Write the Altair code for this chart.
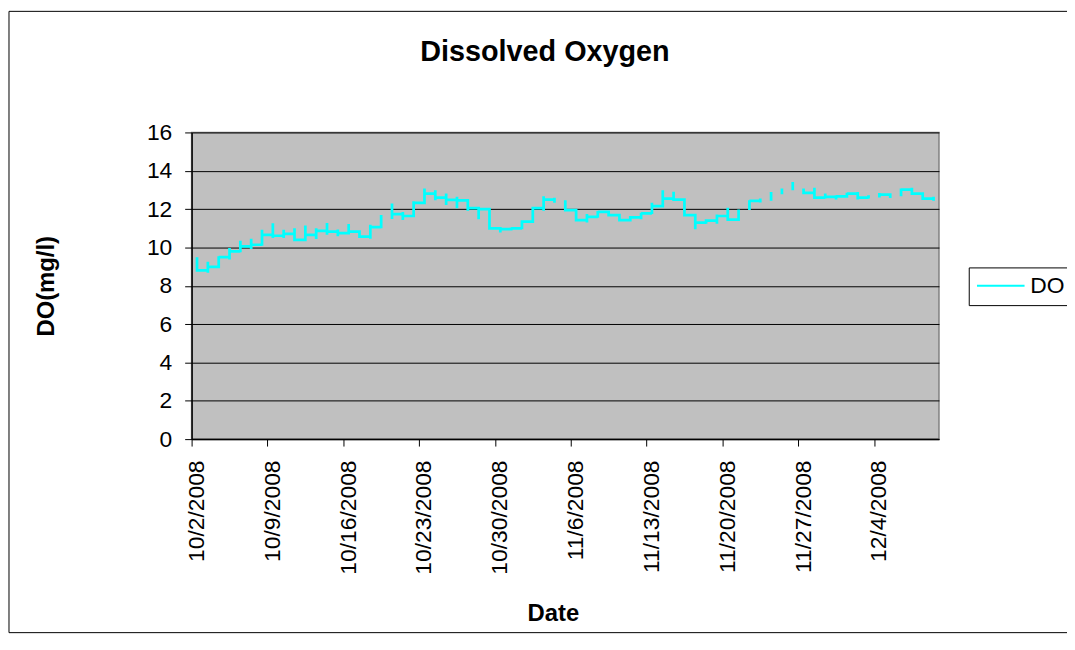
import altair as alt
import pandas as pd

# ---- data (daily first / lowest / highest / last reading) ----
start_date = "2008-10-02"
n_days = 69
do_open = [9.49, 8.80, 8.98, 9.49, 9.80, 10.06, 10.14, 10.66, 10.61, 10.71,
           10.40, 10.66, 10.86, 10.83, 10.75, 10.83, 10.57, 11.06, 12.20, 11.74,
           11.64, 12.33, 12.81, 12.60, 12.48, 12.46, 12.05, 12.00, 11.00, 10.95,
           10.99, 11.35, 12.05, 12.50, 12.46, 11.95, 11.43, 11.60, 11.86, 11.69,
           11.43, 11.57, 11.78, 12.15, 12.55, 12.50, 11.69, 11.30, 11.40, 11.64,
           11.45, 11.95, 12.43, 12.50, 12.90, 13.10, 13.00, 12.85, 12.60, 12.64,
           12.67, 12.81, 12.60, 12.70, 12.76, 12.75, 13.02, 12.81, 12.55]
do_low = [8.77, 8.68, 8.98, 9.37, 9.75, 9.92, 10.09, 10.49, 10.49, 10.35,
          10.40, 10.44, 10.66, 10.58, 10.75, 10.49, 10.45, 11.00, 11.48, 11.43,
          11.64, 12.33, 12.46, 12.21, 12.05, 11.91, 11.47, 11.00, 10.78, 10.88,
          10.95, 11.35, 11.91, 12.33, 11.91, 11.40, 11.30, 11.55, 11.64, 11.40,
          11.43, 11.47, 11.74, 12.15, 12.46, 11.69, 10.95, 11.23, 11.23, 11.40,
          11.45, 11.95, 12.34, 12.43, 12.78, 12.98, 12.78, 12.55, 12.55, 12.50,
          12.67, 12.50, 12.55, 12.60, 12.58, 12.67, 12.78, 12.50, 12.43]
do_high = [9.49, 9.25, 9.54, 9.97, 10.35, 10.45, 10.92, 11.26, 10.92, 11.00,
           11.14, 11.00, 11.28, 10.93, 11.22, 10.85, 11.18, 11.69, 12.29, 11.85,
           12.41, 13.07, 12.98, 12.81, 12.64, 12.46, 12.05, 12.00, 11.00, 11.04,
           11.35, 12.05, 12.67, 12.59, 12.46, 11.95, 11.74, 11.90, 11.91, 11.72,
           11.64, 11.81, 12.33, 12.98, 12.90, 12.50, 11.69, 11.47, 11.72, 12.07,
           11.98, 12.46, 12.55, 12.89, 13.07, 13.41, 13.07, 13.12, 12.81, 12.72,
           12.85, 12.89, 12.72, 12.84, 12.81, 13.07, 13.12, 12.81, 12.64]
do_close = [8.80, 8.98, 9.49, 9.80, 10.06, 10.14, 10.66, 10.61, 10.71, 10.40,
            10.66, 10.86, 10.83, 10.75, 10.83, 10.57, 11.06, 11.60, 11.74, 11.64,
            12.33, 12.81, 12.60, 12.48, 12.46, 12.05, 12.00, 11.00, 10.95, 10.99,
            11.35, 12.05, 12.50, 12.40, 11.95, 11.43, 11.60, 11.86, 11.69, 11.43,
            11.57, 11.78, 12.15, 12.55, 12.50, 11.69, 11.30, 11.40, 11.64, 11.45,
            11.90, 12.43, 12.50, 12.80, 13.00, 13.30, 12.85, 12.60, 12.64, 12.67,
            12.81, 12.60, 12.65, 12.76, 12.70, 13.02, 12.81, 12.55, 12.50]
# days after which readings are missing (the line breaks there)
gap_after = [17, 33, 50, 52, 53, 54, 55, 62, 64]
tick_dates = ["2008-10-02", "2008-10-09", "2008-10-16", "2008-10-23", "2008-10-30",
              "2008-11-06", "2008-11-13", "2008-11-20", "2008-11-27", "2008-12-04"]
chart_title = "Dissolved Oxygen"

days = pd.date_range(start_date, periods=n_days, freq="D")
rows = []
seg = 0
idx = 0
for i, d in enumerate(days):
    t = (d + pd.Timedelta(hours=12)).strftime("%Y-%m-%dT%H:%M:%S")
    for v in (do_open[i], do_low[i], do_high[i], do_close[i]):
        rows.append({"t": t, "value": v, "series": "DO", "seg": seg, "idx": idx})
        idx += 1
    if i in gap_after:
        seg += 1
df = pd.DataFrame(rows)


def dt(s):
    y, m, d = (int(p) for p in s.split("-"))
    return alt.DateTime(year=y, month=m, date=d)


FONT = "Liberation Sans"

line = alt.Chart(df).mark_line(strokeWidth=2.75).encode(
    x=alt.X(
        "t:T",
        scale=alt.Scale(domain=[dt("2008-10-02"), dt("2008-12-10")]),
        axis=alt.Axis(
            values=[dt(s) for s in tick_dates],
            format="%-m/%-d/%Y",
            labelAngle=270,
            labelPadding=14,
            labelOffset=5,
            title="Date",
            titleX=364,
            titlePadding=28,
            grid=False,
        ),
    ),
    y=alt.Y(
        "value:Q",
        scale=alt.Scale(domain=[0, 16], nice=False),
        axis=alt.Axis(
            values=list(range(0, 17, 2)),
            title="DO(mg/l)",
            labelPadding=13,
            titlePadding=89,
            grid=True,
        ),
    ),
    color=alt.Color(
        "series:N",
        scale=alt.Scale(domain=["DO"], range=["#00FFFF"]),
        legend=alt.Legend(
            title=None,
            orient="none",
            legendX=783,
            legendY=136,
            symbolType="M-1,0H3.7",
            symbolSize=416,
            symbolStrokeWidth=2,
            labelFontSize=23,
            labelFont=FONT,
            labelColor="black",
            labelOffset=32,
            strokeColor="black",
            fillColor="white",
            padding=7,
        ),
    ),
    detail="seg:N",
    order="idx:Q",
)

frame = alt.Chart(pd.DataFrame({"k": [0]})).mark_rect(
    filled=False, stroke="black", strokeWidth=1
).encode(
    x=alt.value(-184),
    x2=alt.value(1000),
    y=alt.value(-122),
    y2=alt.value(504),
)

title_text = alt.Chart(pd.DataFrame({"k": [0]})).mark_text(
    text=chart_title,
    font=FONT,
    fontSize=29,
    fontWeight="bold",
    color="black",
    align="center",
    baseline="alphabetic",
).encode(
    x=alt.value(356),
    y=alt.value(-72),
)

chart = alt.layer(frame, title_text, line).properties(
    width=753,
    height=309,
    autosize=alt.AutoSizeParams(type="none"),
    padding={"left": 185, "top": 123, "right": 129, "bottom": 196},
    background="white",
).configure_view(
    fill="#C0C0C0", stroke="#808080", strokeWidth=1.5
).configure_axis(
    labelFont=FONT,
    titleFont=FONT,
    labelFontSize=23,
    titleFontSize=24,
    titleFontWeight="bold",
    labelColor="black",
    titleColor="black",
    domainColor="black",
    domainWidth=1.5,
    tickColor="black",
    tickSize=7,
    gridColor="black",
    gridWidth=1,
)

chart.save("out.html", embed_options={"renderer": "svg", "actions": False})
